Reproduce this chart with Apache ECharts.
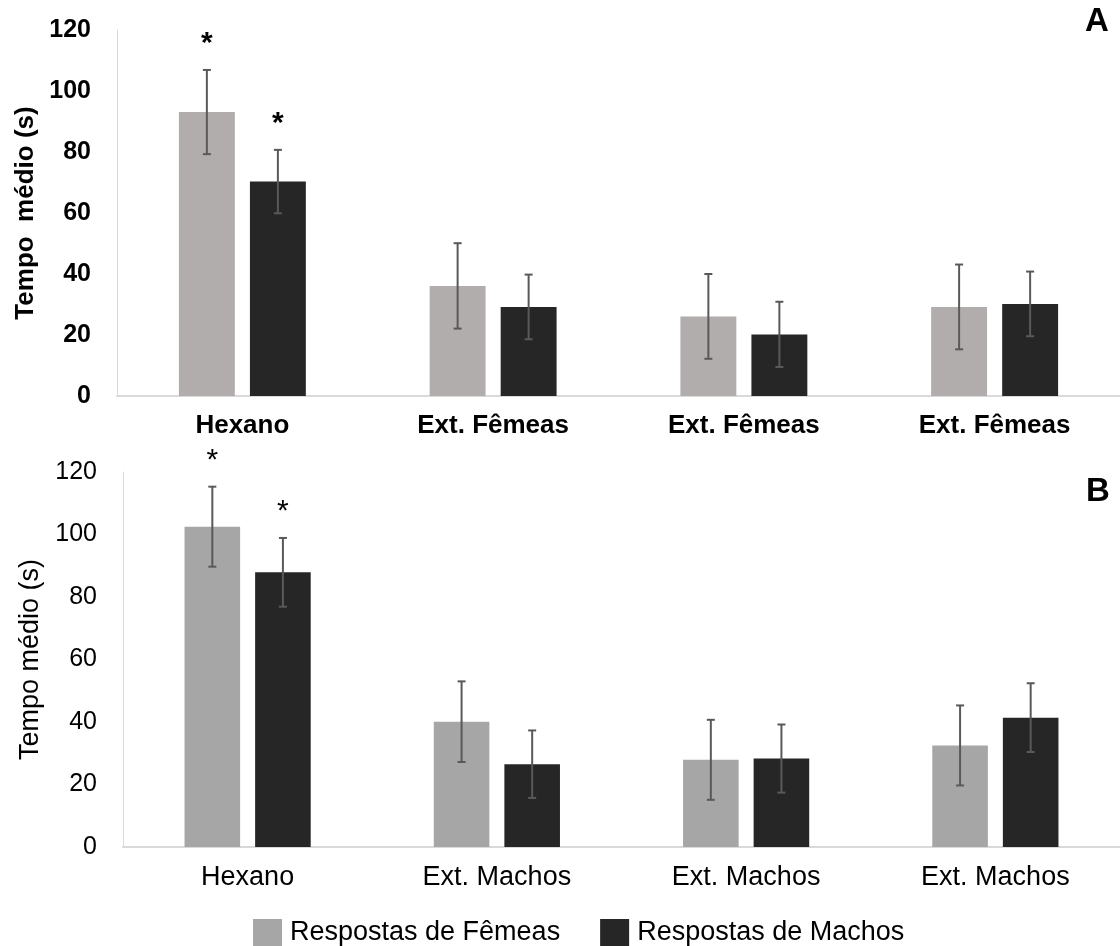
<!DOCTYPE html>
<html>
<head>
<meta charset="utf-8">
<script src="https://cdn.jsdelivr.net/npm/echarts@6/dist/echarts.min.js"></script>
<style>
html,body{margin:0;padding:0;background:#fff;}
#chart{width:1120px;height:946px;}
</style>
</head>
<body>
<div id="chart"></div>
<script>
// ---- data ----
const categoriesA = ['Hexano', 'Ext. Fêmeas', 'Ext. Fêmeas', 'Ext. Fêmeas'];
const categoriesB = ['Hexano', 'Ext. Machos', 'Ext. Machos', 'Ext. Machos'];
const seriesNames = ['Respostas de Fêmeas', 'Respostas de Machos'];
const yTicks = [0, 20, 40, 60, 80, 100, 120];
const yAxisTitleA = 'Tempo  médio (s)';
const yAxisTitleB = 'Tempo médio (s)';
const panelLabels = ['A', 'B'];

const femaleA = [93.1, 36.1, 26.1, 29.2];
const femaleAErr = [13.8, 14.0, 13.9, 13.9];
const maleA = [70.3, 29.2, 20.2, 30.2];
const maleAErr = [10.4, 10.6, 10.7, 10.6];
const femaleAStars = ['*', '', '', ''];
const maleAStars = ['*', '', '', ''];

const femaleB = [102.5, 40.1, 27.9, 32.5];
const femaleBErr = [12.8, 12.9, 12.8, 12.8];
const maleB = [87.9, 26.5, 28.3, 41.4];
const maleBErr = [11.0, 10.8, 10.9, 11.0];
const femaleBStars = ['*', '', '', ''];
const maleBStars = ['*', '', '', ''];

// ---- styles ----
const FONT = 'Liberation Sans, Arial, Helvetica, sans-serif';
const BAR_FRAC = 0.223;
const GAP_FRAC = 0.27;
const colFemA = '#B0ADAC';
const colFemB = '#A6A6A6';
const colMale = '#262626';
const errCol = '#595959';

function errorRender(side, stars, starWeight) {
  return function (params, api) {
    const idx = api.value(0), mean = api.value(1), err = api.value(2);
    const band = api.size([1, 0])[0];
    const bw = band * BAR_FRAC;
    const off = side * bw * (1 + GAP_FRAC) / 2;
    const top = api.coord([idx, mean + err]);
    const bot = api.coord([idx, mean - err]);
    const x = top[0] + off;
    const cap = 4;
    const ls = { stroke: errCol, lineWidth: 2 };
    const children = [
      { type: 'line', shape: { x1: x, y1: top[1], x2: x, y2: bot[1] }, style: ls },
      { type: 'line', shape: { x1: x - cap, y1: top[1], x2: x + cap, y2: top[1] }, style: ls },
      { type: 'line', shape: { x1: x - cap, y1: bot[1], x2: x + cap, y2: bot[1] }, style: ls }
    ];
    const s = stars[params.dataIndex];
    if (s) {
      children.push({
        type: 'text', x: x, y: top[1] - 26,
        style: { text: s, fill: '#000', font: starWeight + ' 30px ' + FONT, textAlign: 'center', textVerticalAlign: 'middle' }
      });
    }
    return { type: 'group', children: children };
  };
}

function errData(vals, errs) { return vals.map((v, i) => [i, v, errs[i]]); }

function yAxis(gridIndex, bold, name, gap, nameSize) {
  return {
    type: 'value', gridIndex: gridIndex, min: yTicks[0], max: yTicks[yTicks.length - 1], interval: yTicks[1] - yTicks[0],
    splitLine: { show: false }, axisTick: { show: false },
    axisLine: { show: true, lineStyle: { color: '#D9D9D9', width: 1 } },
    axisLabel: { color: '#000', fontSize: 25, fontWeight: bold ? 'bold' : 'normal', fontFamily: FONT, margin: 26 },
    name: name, nameLocation: 'middle', nameGap: gap, nameRotate: 90,
    nameTextStyle: { color: '#000', fontSize: nameSize, fontWeight: bold ? 'bold' : 'normal', fontFamily: FONT }
  };
}
function xAxis(gridIndex, cats, bold) {
  return {
    type: 'category', gridIndex: gridIndex, data: cats,
    axisTick: { show: false },
    axisLine: { show: true, lineStyle: { color: '#D9D9D9', width: 2 } },
    axisLabel: { color: '#000', fontSize: bold ? 26 : 27, fontWeight: bold ? 'bold' : 'normal', fontFamily: FONT, margin: 17, interval: 0 }
  };
}

const chart = echarts.init(document.getElementById('chart'), null, { renderer: 'canvas' });
chart.setOption({
  animation: false,
  backgroundColor: '#fff',
  grid: [
    { left: 117, right: 0, top: 30, bottom: 550 },
    { left: 123, right: 0, top: 472, bottom: 99 }
  ],
  xAxis: [xAxis(0, categoriesA, true), xAxis(1, categoriesB, false)],
  yAxis: [yAxis(0, true, yAxisTitleA, 75, 26), yAxis(1, false, yAxisTitleB, 73, 27)],
  legend: {
    left: 248, top: 914, itemWidth: 29, itemHeight: 27, itemGap: 40,
    icon: 'rect',
    textStyle: { color: '#000', fontSize: 27, fontFamily: FONT, padding: [0, 0, 0, 3] },
    data: [
      { name: seriesNames[0], itemStyle: { color: colFemB } },
      { name: seriesNames[1], itemStyle: { color: colMale } }
    ]
  },
  graphic: [
    { type: 'text', left: 1085, top: 5, style: { text: panelLabels[0], fill: '#000', font: 'bold 33px ' + FONT } },
    { type: 'text', left: 1086, top: 475, style: { text: panelLabels[1], fill: '#000', font: 'bold 33px ' + FONT } }
  ],
  series: [
    { name: seriesNames[0], type: 'bar', xAxisIndex: 0, yAxisIndex: 0, data: femaleA, barWidth: (BAR_FRAC * 100) + '%', barGap: (GAP_FRAC * 100) + '%', itemStyle: { color: colFemA } },
    { name: seriesNames[1], type: 'bar', xAxisIndex: 0, yAxisIndex: 0, data: maleA, barWidth: (BAR_FRAC * 100) + '%', barGap: (GAP_FRAC * 100) + '%', itemStyle: { color: colMale } },
    { name: seriesNames[0], type: 'bar', xAxisIndex: 1, yAxisIndex: 1, data: femaleB, barWidth: (BAR_FRAC * 100) + '%', barGap: (GAP_FRAC * 100) + '%', itemStyle: { color: colFemB } },
    { name: seriesNames[1], type: 'bar', xAxisIndex: 1, yAxisIndex: 1, data: maleB, barWidth: (BAR_FRAC * 100) + '%', barGap: (GAP_FRAC * 100) + '%', itemStyle: { color: colMale } },
    { name: 'errFA', type: 'custom', xAxisIndex: 0, yAxisIndex: 0, z: 5, renderItem: errorRender(-1, femaleAStars, 'bold'), data: errData(femaleA, femaleAErr) },
    { name: 'errMA', type: 'custom', xAxisIndex: 0, yAxisIndex: 0, z: 5, renderItem: errorRender(1, maleAStars, 'bold'), data: errData(maleA, maleAErr) },
    { name: 'errFB', type: 'custom', xAxisIndex: 1, yAxisIndex: 1, z: 5, renderItem: errorRender(-1, femaleBStars, 'normal'), data: errData(femaleB, femaleBErr) },
    { name: 'errMB', type: 'custom', xAxisIndex: 1, yAxisIndex: 1, z: 5, renderItem: errorRender(1, maleBStars, 'normal'), data: errData(maleB, maleBErr) }
  ]
});
</script>
</body>
</html>
